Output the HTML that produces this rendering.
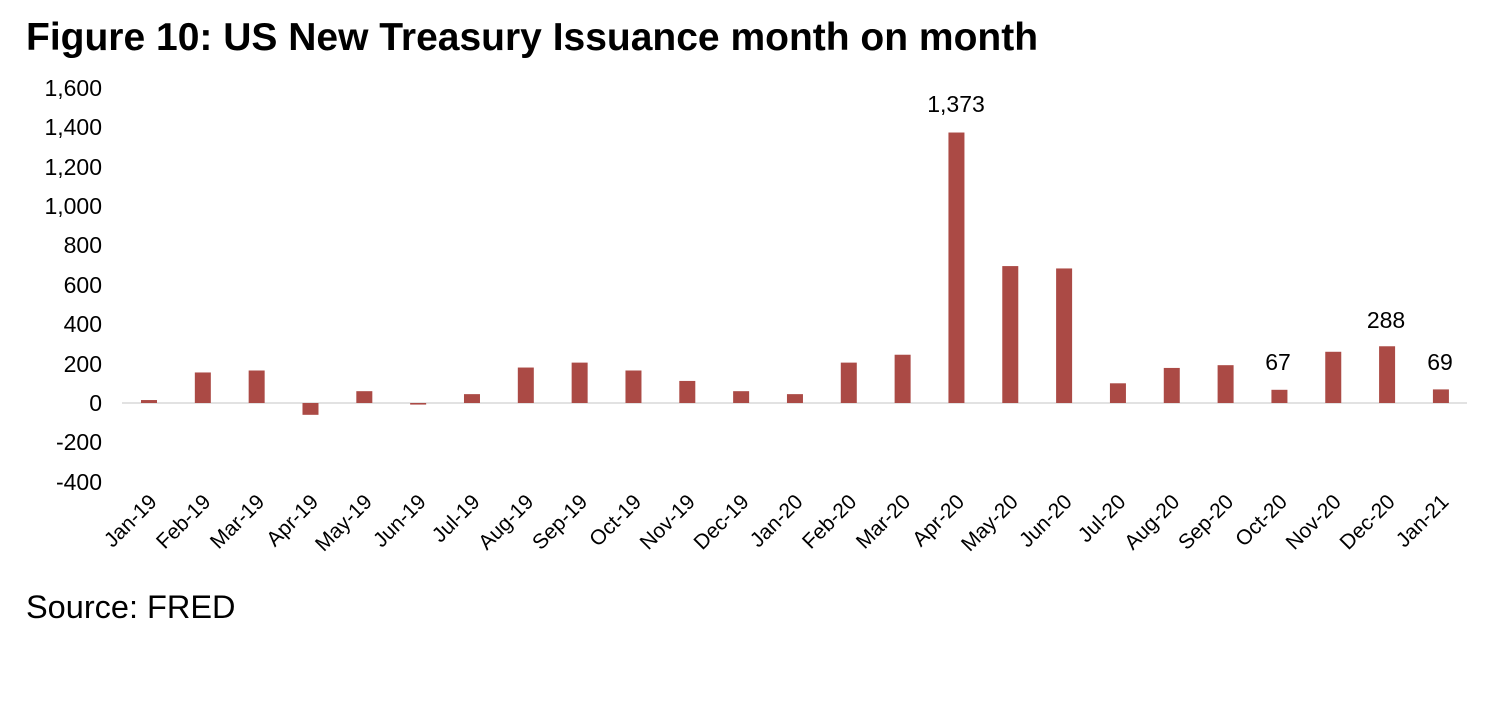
<!DOCTYPE html>
<html><head><meta charset="utf-8"><style>
html,body{margin:0;padding:0;background:#fff;width:1490px;height:706px;overflow:hidden}
svg{display:block;font-family:"Liberation Sans",Arial,sans-serif}
</style></head><body>
<svg width="1490" height="706" viewBox="0 0 1490 706">
<text x="26" y="50" font-size="39" font-weight="bold" fill="#000">Figure 10: US New Treasury Issuance month on month</text>
<g font-size="23" fill="#000" text-anchor="end">
<text x="102" y="96">1,600</text>
<text x="102" y="135">1,400</text>
<text x="102" y="175">1,200</text>
<text x="102" y="214">1,000</text>
<text x="102" y="253">800</text>
<text x="102" y="293">600</text>
<text x="102" y="332">400</text>
<text x="102" y="372">200</text>
<text x="102" y="411">0</text>
<text x="102" y="450">-200</text>
<text x="102" y="490">-400</text>
</g>
<line x1="122" y1="403" x2="1467" y2="403" stroke="#d9d9d9" stroke-width="1.5"/>
<g id="bars" fill="#ab4a45"></g>
<g id="labels" font-size="21" fill="#000"></g>
<g font-size="23" fill="#000" text-anchor="middle">
<text x="956" y="112">1,373</text>
<text x="1278" y="370">67</text>
<text x="1386" y="328">288</text>
<text x="1440" y="370">69</text>
</g>
<text x="26" y="618" font-size="32.5" fill="#000">Source: FRED</text>
<script>
var vals=[15,155,165,-60,60,-8,45,180,205,165,112,60,45,205,245,1373,695,683,100,178,192,67,260,288,69];
var names=["Jan-19","Feb-19","Mar-19","Apr-19","May-19","Jun-19","Jul-19","Aug-19","Sep-19","Oct-19","Nov-19","Dec-19","Jan-20","Feb-20","Mar-20","Apr-20","May-20","Jun-20","Jul-20","Aug-20","Sep-20","Oct-20","Nov-20","Dec-20","Jan-21"];
var ns="http://www.w3.org/2000/svg",b=document.getElementById("bars"),l=document.getElementById("labels");
for(var i=0;i<25;i++){var cx=149+i*53.83,v=vals[i],y0=403,y1=403-v*0.197;
var r=document.createElementNS(ns,"rect");r.setAttribute("x",cx-8);r.setAttribute("width",16);
r.setAttribute("y",Math.min(y0,y1));r.setAttribute("height",Math.max(1,Math.abs(y1-y0)));b.appendChild(r);
var t=document.createElementNS(ns,"text");t.setAttribute("text-anchor","end");
t.setAttribute("transform","translate("+(cx+9)+",503) rotate(-45)");t.textContent=names[i];l.appendChild(t);}
</script>
</svg>
</body></html>
